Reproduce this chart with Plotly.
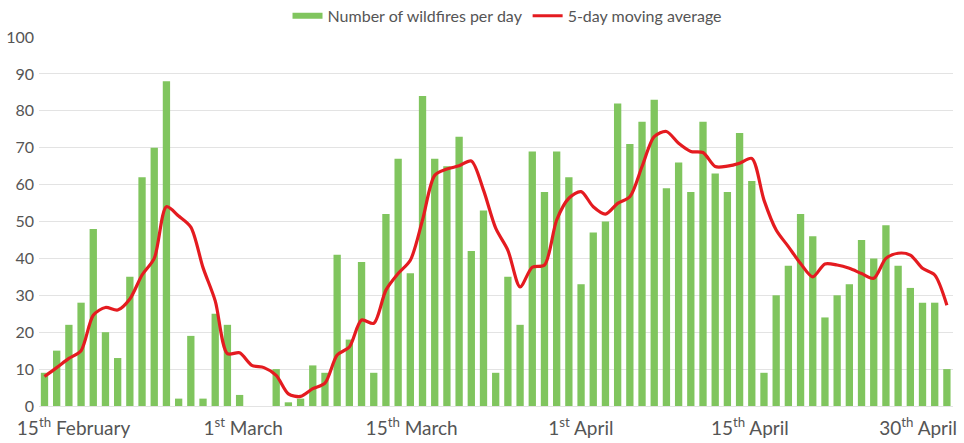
import plotly.graph_objects as go

# Day index 0 = 15 February ... 74 = 30 April
fires_per_day = [
    9, 15, 22, 28, 48, 20, 13, 35, 62, 70, 88, 2, 19, 2, 25, 22, 3, 0, 0, 10,
    1, 2, 11, 9, 41, 18, 39, 9, 52, 67, 36, 84, 67, 65, 73, 42, 53, 9, 35, 22,
    69, 58, 69, 62, 33, 47, 50, 82, 71, 77, 83, 59, 66, 58, 77, 63, 58, 74, 61, 9,
    30, 38, 52, 46, 24, 30, 33, 45, 40, 49, 38, 32, 28, 28, 10,
]

moving_avg = [
    8, 10.4, 12.9, 15, 24.6, 26.7, 26, 29, 35.5, 40, 54, 51.5, 48.5, 37.5, 28.5,
    14.2, 14.4, 11, 10.4, 8.3, 3.3, 2.6, 4.7, 6.2, 13.8, 16, 23.3, 22.4, 31.4, 35.9,
    39.5, 50.4, 62.5, 64.2, 65.1, 66.4, 58.5, 48.2, 42.2, 32.3, 37.6, 38.2, 50.4, 56.3,
    58.1, 54, 52, 54.9, 56.7, 64.9, 73, 74.4, 71.2, 69, 68.7, 64.9, 65, 65.8, 67.1,
    55.8, 47.7, 43.2, 38.6, 35, 38.5, 38.2, 37.3, 35.9, 34.6, 40, 41.4, 40.9, 37.3,
    35.5, 27.3,
]

day_index = list(range(len(fires_per_day)))

tick_labels = [
    "15<sup>th</sup> February",
    "1<sup>st</sup> March",
    "15<sup>th</sup> March",
    "1<sup>st</sup> April",
    "15<sup>th</sup> April",
    "30<sup>th</sup> April",
]
tick_pos = [2.38, 16.29, 30.11, 43.98, 57.84, 71.64]

y_ticks = list(range(0, 101, 10))

GREEN = "#80c55e"
RED = "#e41b20"
TEXT = "#555555"
FONT = "Lato, Noto Sans, sans-serif"

fig = go.Figure()
fig.add_trace(go.Bar(
    x=day_index, y=fires_per_day, marker_color=GREEN, marker_line_width=0,
    name="Number of wildfires per day", showlegend=False,
))
fig.add_trace(go.Scatter(
    x=day_index, y=moving_avg, mode="lines",
    line=dict(color=RED, width=3.2, shape="spline", smoothing=0.8),
    name="5-day moving average", showlegend=False,
))
# legend entries (bar swatch drawn as a flat band, as in the original)
fig.add_trace(go.Scatter(
    x=[None], y=[None], mode="lines", line=dict(color=GREEN, width=6),
    name="Number of wildfires per day",
))
fig.add_trace(go.Scatter(
    x=[None], y=[None], mode="lines", line=dict(color=RED, width=3),
    name="5-day moving average",
))

fig.update_layout(
    width=964, height=443,
    margin=dict(l=39, r=11, t=37, b=37, autoexpand=False),
    plot_bgcolor="white", paper_bgcolor="white",
    bargap=0.4,
    font=dict(family=FONT, color=TEXT, size=16),
    legend=dict(
        orientation="h", x=0.5126, xanchor="center", y=1.057, yanchor="middle",
        font=dict(size=16, color=TEXT), itemwidth=30, tracegroupgap=0,
        bgcolor="rgba(0,0,0,0)",
    ),
    xaxis=dict(
        range=[-0.45, 74.5], tickvals=tick_pos, ticktext=tick_labels,
        showgrid=False, zeroline=False, showline=False, ticks="",
        tickfont=dict(size=19, color=TEXT), ticklabelstandoff=9, automargin=False,
    ),
    yaxis=dict(
        range=[0, 100], tickvals=y_ticks, showgrid=True, gridcolor="#e3e3e3",
        gridwidth=1, zeroline=True, zerolinecolor="#e3e3e3", zerolinewidth=1,
        showline=False, ticks="", tickfont=dict(size=16, color=TEXT),
        ticklabelstandoff=4, automargin=False,
    ),
)

# remove the browser's default page margin so the figure fills the window
fig.write_html(
    "out.html",
    config={"displayModeBar": False},
    post_script="document.body.style.margin='0';",
)
